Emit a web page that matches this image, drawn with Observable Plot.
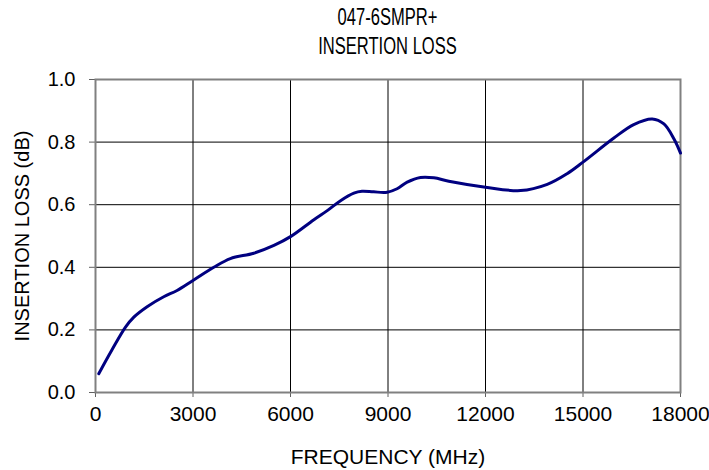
<!DOCTYPE html>
<html>
<head>
<meta charset="utf-8">
<script src="https://cdn.jsdelivr.net/npm/d3@7"></script>
<script src="https://cdn.jsdelivr.net/npm/@observablehq/plot@0.6"></script>
<style>
  body { margin: 0; background: #fff; font-family: "Liberation Sans", Arial, sans-serif; }
  #title { width: 709px; height: 60px; position: relative; overflow: hidden; }
  #title div { position: absolute; left: 0; width: 775px; text-align: center; font-size: 23px; line-height: 24px; color: #000; transform: scaleX(0.72); white-space: nowrap; }
</style>
</head>
<body>
<div id="title"><div style="top:5px">047-6SMPR+</div><div style="top:34px">INSERTION LOSS</div></div>
<div id="chart"></div>
<script>
const freq = [100, 500, 923, 1180, 1600, 2100, 2510, 3000, 3640, 4150, 4870, 5490, 6000, 6720, 7130, 7540, 7950, 8200, 8560, 8975, 9280, 9590, 10000, 10410, 10870, 12000, 13080, 13900, 14510, 15000, 15950, 16560, 17130, 17490, 17800, 18000];
const loss = [0.060, 0.135, 0.209, 0.241, 0.275, 0.306, 0.326, 0.358, 0.400, 0.428, 0.445, 0.470, 0.498, 0.552, 0.581, 0.613, 0.637, 0.643, 0.641, 0.640, 0.651, 0.672, 0.687, 0.686, 0.675, 0.656, 0.645, 0.665, 0.699, 0.736, 0.813, 0.856, 0.874, 0.858, 0.810, 0.765];
const xTicks = [0, 3000, 6000, 9000, 12000, 15000, 18000];
const yTicks = [0, 0.2, 0.4, 0.6, 0.8, 1.0];
const data = freq.map((f, i) => ({f, v: loss[i]}));

const chart = Plot.plot({
  width: 709,
  height: 410,
  marginTop: 19,
  marginBottom: 78,
  marginLeft: 95,
  marginRight: 29,
  style: {fontFamily: '"Liberation Sans", Arial, sans-serif', fontSize: "20px", color: "#000", background: "#fff", overflow: "visible"},
  x: {domain: [0, 18000]},
  y: {domain: [0, 1]},
  marks: [
    Plot.gridX(xTicks, {stroke: "#000", strokeOpacity: 1, strokeWidth: 1}),
    Plot.gridY(yTicks, {stroke: "#000", strokeOpacity: 1, strokeWidth: 1}),
    Plot.axisX(xTicks, {tickSize: 5, tickPadding: 9, fontSize: 21, tickFormat: d => String(d), label: null, stroke: "#606060"}),
    Plot.axisY(yTicks, {tickSize: 6, tickPadding: 14, fontSize: 20, tickFormat: d => d.toFixed(1), label: null, stroke: "#606060"}),
    Plot.frame({stroke: "#808080", strokeWidth: 2}),
    Plot.line(data, {x: "f", y: "v", stroke: "#000080", strokeWidth: 3, curve: "catmull-rom"}),
    Plot.text(["FREQUENCY (MHz)"], {frameAnchor: "bottom", lineAnchor: "middle", textAnchor: "middle", dy: 65, fontSize: 21}),
    Plot.text(["INSERTION LOSS (dB)"], {frameAnchor: "left", textAnchor: "middle", lineAnchor: "middle", dx: -73, rotate: -90, fontSize: 20})
  ]
});
document.getElementById("chart").appendChild(chart);
</script>
</body>
</html>
